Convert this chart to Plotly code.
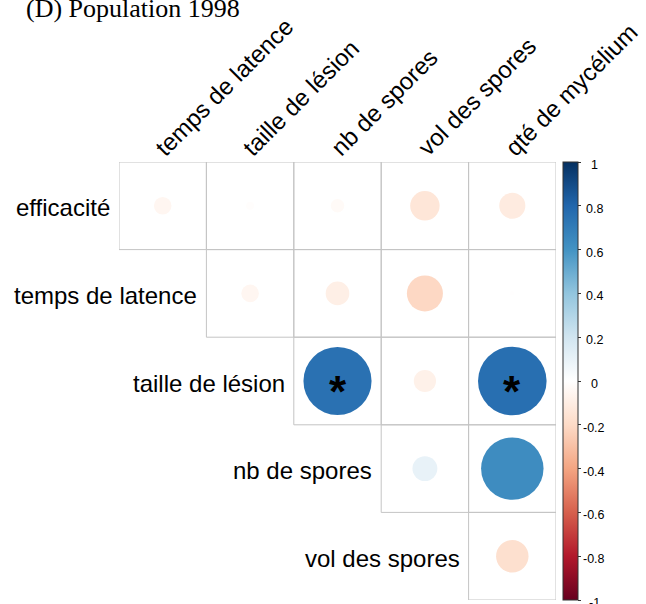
import numpy as np
import plotly.graph_objects as go

# Variables (upper-triangle correlation layout)
row_labels = ["efficacité", "temps de latence", "taille de lésion", "nb de spores", "vol des spores"]
col_labels = ["temps de latence", "taille de lésion", "nb de spores", "vol des spores", "qté de mycélium"]

# Correlation coefficients, one list per row, starting at the diagonal column
corr_efficacite = [-0.05, -0.01, -0.03, -0.14, -0.11]
corr_temps = [-0.05, -0.09, -0.21, -0.003]
corr_taille = [0.75, -0.08, 0.76]
corr_nb = [0.10, 0.63]
corr_vol = [-0.17]

# Significance flags (p < 0.05), same shape as the coefficient rows
sig_efficacite = [False, False, False, False, False]
sig_temps = [False, False, False, False]
sig_taille = [True, False, True]
sig_nb = [False, False]
sig_vol = [False]

corr_rows = [corr_efficacite, corr_temps, corr_taille, corr_nb, corr_vol]
sig_rows = [sig_efficacite, sig_temps, sig_taille, sig_nb, sig_vol]

cbar_ticks = [1, 0.8, 0.6, 0.4, 0.2, 0, -0.2, -0.4, -0.6, -0.8, -1]

# RdBu diverging palette used for the coefficients
rdbu = ["#67001F", "#B2182B", "#D6604D", "#F4A582", "#FDDBC7", "#FFFFFF",
        "#D1E5F0", "#92C5DE", "#4393C3", "#2166AC", "#053061"]
colorscale = [[i / (len(rdbu) - 1), c] for i, c in enumerate(rdbu)]

W, H = 646, 604
ML, MR, MT, MB = 119, 90, 162, 4
n = len(col_labels)
plot_w = W - ML - MR
plot_h = H - MT - MB
cell_px = plot_w / n

xs, ys, vals, sizes = [], [], [], []
star_x, star_y = [], []
for i, (vals_row, sig_row) in enumerate(zip(corr_rows, sig_rows)):
    for k, (v, s) in enumerate(zip(vals_row, sig_row)):
        j = i + k
        xs.append(j + 1)
        ys.append(i + 1)
        vals.append(v)
        # circle area proportional to |r|
        sizes.append(2 * 0.45 * np.sqrt(abs(v)) * cell_px)
        if s:
            star_x.append(j + 1)
            star_y.append(i + 1)

fig = go.Figure()

# grid cells of the upper triangle
shapes = []
for i in range(n):
    for j in range(i, n):
        shapes.append(dict(type="rect", xref="x", yref="y",
                           x0=j + 0.5, x1=j + 1.5, y0=i + 0.5, y1=i + 1.5,
                           line=dict(color="#C4C4C4", width=1), layer="below"))

fig.add_trace(go.Scatter(
    x=xs, y=ys, mode="markers",
    marker=dict(size=sizes, color=vals, colorscale=colorscale, cmin=-1, cmax=1,
                line=dict(width=0), opacity=1,
                colorbar=dict(x=(563 - ML) / plot_w, xanchor="left", xpad=0,
                              y=0.5, yanchor="middle", len=1, lenmode="fraction", ypad=0,
                              thickness=15, outlinewidth=1, outlinecolor="#333333",
                              tickvals=cbar_ticks, ticks="outside", ticklen=3,
                              tickcolor="#333333", showticklabels=False)),
    hoverinfo="skip", showlegend=False))

annotations = []
# significance stars
for x, y in zip(star_x, star_y):
    annotations.append(dict(x=x, y=y, xref="x", yref="y", text="<b>*</b>", showarrow=False,
                            xanchor="center", yanchor="middle", yshift=-10,
                            font=dict(family="Liberation Sans", size=44, color="black")))

# row labels, right-aligned against the first cell of each row
for i, lab in enumerate(row_labels):
    annotations.append(dict(x=i + 0.5, y=i + 1, xref="x", yref="y", text=lab,
                            showarrow=False, xanchor="right", yanchor="middle",
                            xshift=-7, yshift=-2,
                            font=dict(family="Liberation Sans", size=24, color="black")))

# column labels, rotated 45 degrees above the grid
for j, lab in enumerate(col_labels):
    annotations.append(dict(x=j + 1, y=0.5, xref="x", yref="y", text=lab,
                            showarrow=False, textangle=-45, xanchor="left", yanchor="bottom",
                            xshift=-15, yshift=-2,
                            font=dict(family="Liberation Sans", size=24, color="black")))

# colour bar labels
for v in cbar_ticks:
    annotations.append(dict(x=(594 - ML) / plot_w, y=(v + 1) / 2, xref="paper", yref="paper",
                            text=f"{v:g}", showarrow=False, xanchor="center", yanchor="middle",
                            yshift=-3,
                            font=dict(family="Liberation Sans", size=12.5, color="black")))

# panel title
annotations.append(dict(x=(24 - ML) / plot_w, y=(H - MB - 9) / plot_h, xref="paper", yref="paper",
                        text="(D) Population 1998", showarrow=False,
                        xanchor="left", yanchor="middle",
                        font=dict(family="Liberation Serif", size=26, color="black")))

fig.update_layout(
    width=W, height=H,
    margin=dict(l=ML, r=MR, t=MT, b=MB, pad=0),
    paper_bgcolor="white", plot_bgcolor="white",
    xaxis=dict(range=[0.5, n + 0.5], visible=False, fixedrange=True),
    yaxis=dict(range=[n + 0.5, 0.5], visible=False, fixedrange=True),
    shapes=shapes, annotations=annotations,
)

fig.write_html("out.html")
